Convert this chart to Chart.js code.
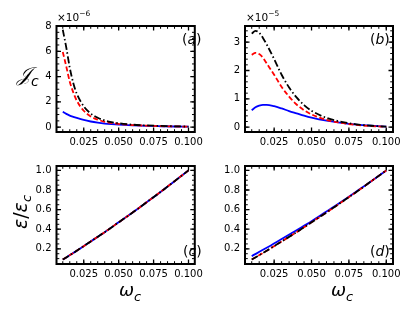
<!DOCTYPE html>
<html><head><meta charset="utf-8">
<script src="https://cdn.jsdelivr.net/npm/chart.js@4/dist/chart.umd.min.js"></script>
<style>
html,body{margin:0;padding:0;background:#fff;width:415px;height:311px;overflow:hidden;position:relative;}
canvas{position:absolute;}
.t{position:absolute;font-family:'DejaVu Sans',sans-serif;color:#000;white-space:nowrap;line-height:1;}
</style></head><body>
<canvas id="ca" width="207" height="155" style="left:0;top:0"></canvas>
<canvas id="cb" width="208" height="155" style="left:207px;top:0"></canvas>
<canvas id="cc" width="207" height="156" style="left:0;top:155px"></canvas>
<canvas id="cd" width="208" height="156" style="left:207px;top:155px"></canvas>

<div class="t" style="left:57px;top:10px;font-size:10.5px">×10<sup style="font-size:7.5px;vertical-align:5px">−6</sup></div>
<div class="t" style="left:246px;top:10px;font-size:10.5px">×10<sup style="font-size:7.5px;vertical-align:5px">−5</sup></div>
<div class="t" style="left:182px;top:32px;font-size:14px">(<i>a</i>)</div>
<div class="t" style="left:370px;top:32px;font-size:14px">(<i>b</i>)</div>
<div class="t" style="left:183px;top:244px;font-size:14px">(<i>c</i>)</div>
<div class="t" style="left:370px;top:244px;font-size:14px">(<i>d</i>)</div>
<div class="t" style="left:17px;top:64px;font-size:20px;font-style:italic">𝒥<sub style="font-size:14px">c</sub></div>
<div class="t" style="left:22px;top:212px;font-size:19px;transform:translate(-50%,-50%) rotate(-90deg)"><i>ε</i>/<i>ε</i><sub style="font-size:13px;font-style:italic">c</sub></div>
<div class="t" style="left:130px;top:292px;font-size:18px;transform:translate(-50%,-50%)"><i>ω</i><sub style="font-size:13px;font-style:italic">c</sub></div>
<div class="t" style="left:342px;top:292px;font-size:18px;transform:translate(-50%,-50%)"><i>ω</i><sub style="font-size:13px;font-style:italic">c</sub></div>

<script>
// ---- data (top panels: J_c, in units of the offset multiplier) ----
const omega = [0.010,0.0125,0.015,0.0175,0.020,0.025,0.030,0.035,0.040,0.045,0.050,0.060,0.070,0.080,0.090,0.100];
const aBlack = [7.7,6.3,4.7,3.5,2.65,1.65,1.08,0.75,0.53,0.40,0.31,0.20,0.14,0.10,0.07,0.05];
const aRed   = [5.95,4.8,3.6,2.75,2.1,1.3,0.85,0.6,0.43,0.33,0.26,0.17,0.12,0.085,0.06,0.045];
const aBlue  = [1.22,1.05,0.92,0.82,0.73,0.57,0.45,0.36,0.29,0.24,0.20,0.14,0.10,0.075,0.055,0.04];
const bBlack = [3.30,3.40,3.33,3.15,2.92,2.40,1.85,1.40,1.05,0.78,0.58,0.33,0.19,0.10,0.05,0.02];
const bRed   = [2.55,2.62,2.58,2.45,2.25,1.85,1.42,1.08,0.80,0.60,0.45,0.26,0.15,0.08,0.04,0.015];
const bBlue  = [0.60,0.70,0.76,0.79,0.79,0.74,0.66,0.57,0.49,0.41,0.34,0.23,0.15,0.09,0.05,0.02];
// ---- data (bottom panels: eps/eps_c) ----
const omegaE = [0.010,0.020,0.030,0.040,0.050,0.060,0.070,0.080,0.090,0.100];
const cBlack = [0.09,0.18,0.275,0.37,0.47,0.57,0.675,0.78,0.89,1.0];
const cRed   = [0.09,0.18,0.275,0.37,0.47,0.57,0.675,0.78,0.89,1.0];
const cBlue  = [0.09,0.18,0.275,0.37,0.47,0.57,0.675,0.78,0.89,1.0];
const dBlack = [0.09,0.18,0.275,0.37,0.47,0.57,0.675,0.78,0.89,1.0];
const dRed   = [0.09,0.18,0.275,0.37,0.47,0.57,0.675,0.78,0.89,1.0];
const dBlue  = [0.125,0.21,0.30,0.39,0.48,0.58,0.68,0.785,0.89,1.0];
// ---- ticks ----
const xTicks = [0.025,0.050,0.075,0.100];
const aTicks = [0,2,4,6,8];
const bTicks = [0,1,2,3];
const eTicks = [0.2,0.4,0.6,0.8,1.0];

const FONT = {family:"'DejaVu Sans'", size:10};

const framePlugin = {
  id:'frame',
  afterDatasetsDraw(chart){
    const {ctx, chartArea:a, scales} = chart;
    const o = chart.options.plugins.frame;
    ctx.save();
    ctx.strokeStyle = '#000';
    const drawX = (v,len,lw)=>{
      const p = scales.x.getPixelForValue(v);
      if (p < a.left-0.5 || p > a.right+0.5) return;
      ctx.lineWidth = lw;
      ctx.beginPath();
      ctx.moveTo(p,a.bottom); ctx.lineTo(p,a.bottom-len);
      ctx.moveTo(p,a.top); ctx.lineTo(p,a.top+len);
      ctx.stroke();
    };
    const drawY = (v,len,lw)=>{
      const p = scales.y.getPixelForValue(v);
      if (p < a.top-0.5 || p > a.bottom+0.5) return;
      ctx.lineWidth = lw;
      ctx.beginPath();
      ctx.moveTo(a.left,p); ctx.lineTo(a.left+len,p);
      ctx.moveTo(a.right,p); ctx.lineTo(a.right-len,p);
      ctx.stroke();
    };
    const xs = scales.x, ys = scales.y;
    for (let k=Math.ceil(xs.min/o.xMinor); k*o.xMinor<=xs.max; k++) drawX(k*o.xMinor,2.8,1);
    for (let k=Math.ceil(ys.min/o.yMinor); k*o.yMinor<=ys.max+1e-9; k++) drawY(k*o.yMinor,2.8,1);
    xs.ticks.forEach(t=>drawX(t.value,4.5,1.3));
    ys.ticks.forEach(t=>drawY(t.value,4.5,1.3));
    ctx.lineWidth = 2;
    ctx.strokeRect(a.left,a.top,a.right-a.left,a.bottom-a.top);
    ctx.restore();
  }
};

function ds(xs, ys, color, dash){
  return {data: xs.map((x,i)=>({x, y: ys[i]})), borderColor: color, borderWidth: 1.8,
    borderDash: dash, pointRadius: 0, fill:false, cubicInterpolationMode:'monotone'};
}

function make(id, xs, series, yr, yTicks, yFmt, yWidth, pad, xHeight, minor){
  new Chart(document.getElementById(id), {
    type:'line',
    data:{datasets:[
      // Chart.js paints dataset 0 on top: black, then red, then blue underneath
      ds(xs, series[0], '#000000', [7,2.5,1.5,2.5]),
      ds(xs, series[1], '#ff0000', [5,2.5]),
      ds(xs, series[2], '#0000ff', [])
    ]},
    options:{
      responsive:false, animation:false, devicePixelRatio:1,
      layout:{padding:pad},
      plugins:{legend:{display:false}, tooltip:{enabled:false}, frame:minor},
      scales:{
        x:{type:'linear', min:0.0055, max:0.1045,
          afterBuildTicks:s=>{s.ticks = xTicks.map(v=>({value:v}));},
          afterFit:s=>{s.height = xHeight;},
          grid:{display:false, drawTicks:false}, border:{display:false},
          ticks:{font:FONT, color:'#000', padding:4, maxRotation:0, autoSkip:false,
            callback:v=>v.toFixed(3)}},
        y:{type:'linear', min:yr[0], max:yr[1],
          afterBuildTicks:s=>{s.ticks = yTicks.map(v=>({value:v}));},
          afterFit:s=>{s.width = yWidth;},
          grid:{display:false, drawTicks:false}, border:{display:false},
          ticks:{font:FONT, color:'#000', padding:5, autoSkip:false, callback:yFmt}}
      }
    },
    plugins:[framePlugin]
  });
}

make('ca', omega, [aBlack,aRed,aBlue], [-0.38,8.0], aTicks, v=>String(v), 56.5,
     {left:0,top:26,right:4,bottom:0}, 23, {xMinor:0.005,yMinor:0.5});
make('cb', omega, [bBlack,bRed,bBlue], [-0.17,3.57], bTicks, v=>String(v), 38,
     {left:0,top:26,right:22,bottom:0}, 23, {xMinor:0.005,yMinor:0.2});
make('cc', omegaE, [cBlack,cRed,cBlue], [0.045,1.045], eTicks, v=>v.toFixed(1), 56.5,
     {left:0,top:4,right:4,bottom:0}, 47, {xMinor:0.005,yMinor:0.05});
make('cd', omegaE, [dBlack,dRed,dBlue], [0.045,1.045], eTicks, v=>v.toFixed(1), 38,
     {left:0,top:4,right:22,bottom:0}, 47, {xMinor:0.005,yMinor:0.05});
</script>
</body></html>
